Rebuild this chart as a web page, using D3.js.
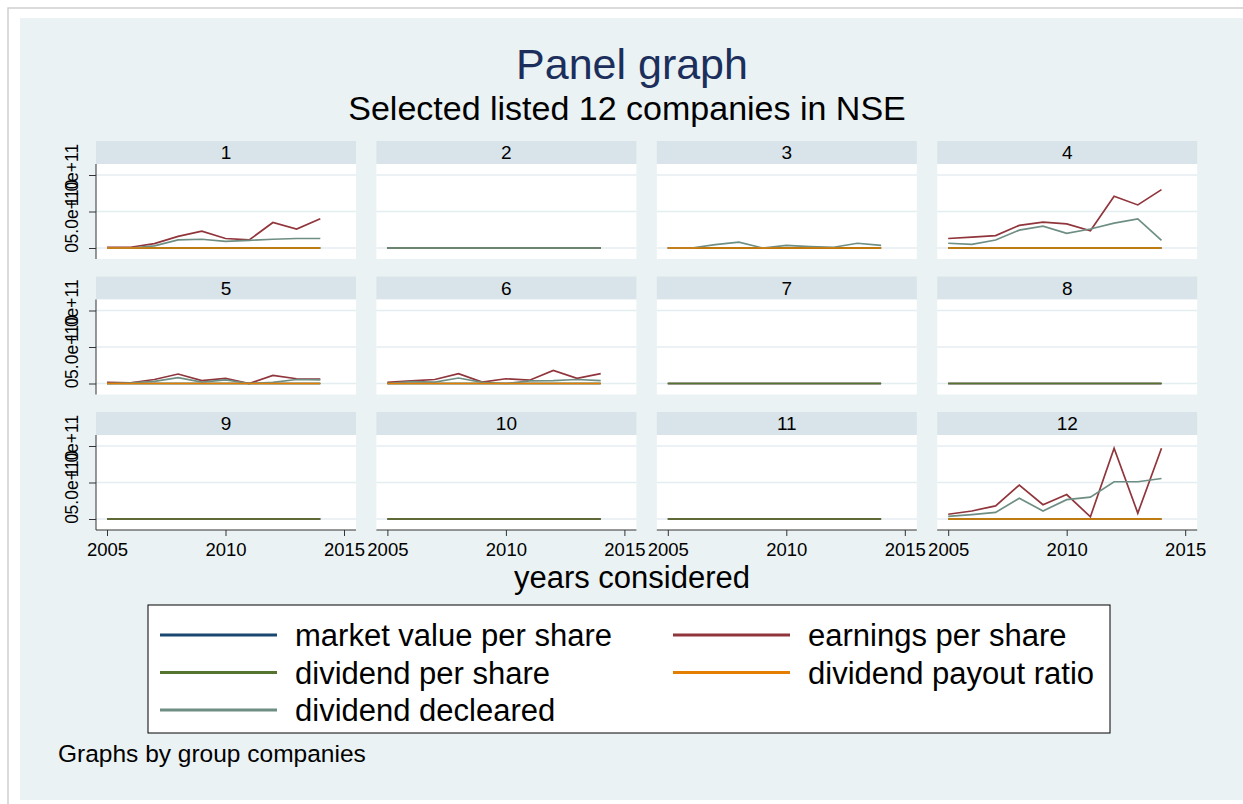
<!DOCTYPE html>
<html>
<head>
<meta charset="utf-8">
<script src="https://cdn.jsdelivr.net/npm/d3@7"></script>
<style>
  body { margin: 0; background: #fff; }
  svg { display: block; font-family: "Liberation Sans", Arial, sans-serif; }
</style>
</head>
<body>
<svg id="chart" width="1243" height="804"></svg>
<script>
// values in billions (1e9)
const years = [2005, 2006, 2007, 2008, 2009, 2010, 2011, 2012, 2013, 2014];
const companies = ["1", "2", "3", "4", "5", "6", "7", "8", "9", "10", "11", "12"];
const seriesNames = ["market value per share", "earnings per share", "dividend per share",
  "dividend payout ratio", "dividend decleared"];
const yTicks = [0, 50, 100];
const yTickLabels = ["0", "5.0e+10", "1.0e+11"];
const xTicks = [2005, 2010, 2015];

const marketValue = [
  [0, 0, 0, 0, 0, 0, 0, 0, 0, 0], [0, 0, 0, 0, 0, 0, 0, 0, 0, 0], [0, 0, 0, 0, 0, 0, 0, 0, 0, 0],
  [0, 0, 0, 0, 0, 0, 0, 0, 0, 0], [0, 0, 0, 0, 0, 0, 0, 0, 0, 0], [0, 0, 0, 0, 0, 0, 0, 0, 0, 0],
  [0, 0, 0, 0, 0, 0, 0, 0, 0, 0], [0, 0, 0, 0, 0, 0, 0, 0, 0, 0], [0, 0, 0, 0, 0, 0, 0, 0, 0, 0],
  [0, 0, 0, 0, 0, 0, 0, 0, 0, 0], [0, 0, 0, 0, 0, 0, 0, 0, 0, 0], [0, 0, 0, 0, 0, 0, 0, 0, 0, 0]
];
const earnings = [
  [1, 1, 6, 16, 23, 13, 11, 35, 26, 40],
  [0, 0, 0, 0, 0, 0, 0, 0, 0, 0],
  [0, 0, 0, 0, 0, 0, 0, 0, 0, 0],
  [13, 15, 17, 31, 35.5, 33, 23.5, 71, 59, 80],
  [1.5, 1, 5.5, 13, 4, 7, 0, 11, 6.5, 6],
  [1.5, 3.5, 5.5, 13.5, 2, 6.5, 4.5, 18, 7, 13.5],
  [0, 0, 0, 0, 0, 0, 0, 0, 0, 0], [0, 0, 0, 0, 0, 0, 0, 0, 0, 0], [0, 0, 0, 0, 0, 0, 0, 0, 0, 0],
  [0, 0, 0, 0, 0, 0, 0, 0, 0, 0], [0, 0, 0, 0, 0, 0, 0, 0, 0, 0],
  [6.5, 11, 18, 46.5, 19.5, 33.5, 3, 97, 8, 97]
];
const dividendPerShare = [
  [0, 0, 0, 0, 0, 0, 0, 0, 0, 0], [0, 0, 0, 0, 0, 0, 0, 0, 0, 0], [0, 0, 0, 0, 0, 0, 0, 0, 0, 0],
  [0, 0, 0, 0, 0, 0, 0, 0, 0, 0], [0, 0, 0, 0, 0, 0, 0, 0, 0, 0], [0, 0, 0, 0, 0, 0, 0, 0, 0, 0],
  [0, 0, 0, 0, 0, 0, 0, 0, 0, 0], [0, 0, 0, 0, 0, 0, 0, 0, 0, 0], [0, 0, 0, 0, 0, 0, 0, 0, 0, 0],
  [0, 0, 0, 0, 0, 0, 0, 0, 0, 0], [0, 0, 0, 0, 0, 0, 0, 0, 0, 0], [0, 0, 0, 0, 0, 0, 0, 0, 0, 0]
];
const payoutRatio = [
  [0, 0, 0, 0, 0, 0, 0, 0, 0, 0], null, [0, 0, 0, 0, 0, 0, 0, 0, 0, 0],
  [0, 0, 0, 0, 0, 0, 0, 0, 0, 0], [0, 0, 0, 0, 0, 0, 0, 0, 0, 0], [0, 0, 0, 0, 0, 0, 0, 0, 0, 0],
  null, null, null, null, null,
  [0, 0, 0, 0, 0, 0, 0, 0, 0, 0]
];
const dividendDecleared = [
  [0, 0, 3, 11, 12, 9, 10.5, 12, 13, 13],
  [0, 0, 0, 0, 0, 0, 0, 0, 0, 0],
  [0, 0, 4.5, 8, 0, 3.5, 2, 1, 6.5, 3.5],
  [6.5, 5, 11, 24.5, 30, 20, 26, 34, 40, 10.5],
  [0, 1, 3, 8, 2, 5, 0, 1.5, 5.5, 5],
  [0, 2.5, 2, 7.5, 1.5, 0, 3.5, 4, 5.5, 4],
  null, null, null, null, null,
  [3.5, 6, 9, 28.5, 11, 26.5, 30, 51, 51, 55.5]
];

const seriesData = [marketValue, earnings, dividendPerShare, payoutRatio, dividendDecleared];
const color = d3.scaleOrdinal(seriesNames, ["#1a476f", "#90353b", "#55752f", "#e37e00", "#6e8e84"]);
const drawOrder = [0, 1, 2, 4, 3];

const svg = d3.select("#chart");

// page frame and graph region
svg.append("rect").attr("x", 8).attr("y", 8).attr("width", 1240).attr("height", 800)
  .attr("fill", "#fff").attr("stroke", "#cfcfcf").attr("stroke-width", 1.5);
svg.append("rect").attr("x", 20).attr("y", 18).attr("width", 1223).attr("height", 782)
  .attr("fill", "#eaf2f3");

svg.append("text").attr("x", 632).attr("y", 79).attr("text-anchor", "middle")
  .attr("font-size", 43).attr("fill", "#1c2f5c").text("Panel graph");
svg.append("text").attr("x", 627).attr("y", 120).attr("text-anchor", "middle")
  .attr("font-size", 34).attr("fill", "#000").text("Selected listed 12 companies in NSE");

const colStep = 280.4, rowStep = 135.5;
const panelW = 260, headH = 23, plotH = 95;

companies.forEach((name, i) => {
  const col = i % 4, row = Math.floor(i / 4);
  const left = 96 + col * colStep;
  const top = 141 + row * rowStep;
  const pTop = top + headH, pBot = pTop + plotH;

  const x = d3.scaleLinear().domain([2005, 2015]).range([left + 11, left + 248]);
  const y = d3.scaleLinear().domain([0, 100]).range([pBot - 11, pTop + 11]);

  const g = svg.append("g");
  g.append("rect").attr("x", left).attr("y", top).attr("width", panelW).attr("height", headH)
    .attr("fill", "#d9e4ea");
  g.append("text").attr("x", left + panelW / 2).attr("y", top + 18).attr("text-anchor", "middle")
    .attr("font-size", 19).text(name);
  g.append("rect").attr("x", left).attr("y", pTop).attr("width", panelW).attr("height", plotH)
    .attr("fill", "#fff");

  g.selectAll(".grid").data(yTicks).join("line")
    .attr("x1", left).attr("x2", left + panelW)
    .attr("y1", d => y(d)).attr("y2", d => y(d))
    .attr("stroke", "#e4edf0").attr("stroke-width", 1.3);

  const line = d3.line().x((d, j) => x(years[j])).y(d => y(d));
  drawOrder.forEach(s => {
    const vals = seriesData[s][i];
    if (!vals) return;
    g.append("path").attr("d", line(vals)).attr("fill", "none")
      .attr("stroke", color(seriesNames[s])).attr("stroke-width", 1.7);
  });

  if (col === 0) {
    const ya = g.append("g").attr("transform", `translate(${left},0)`)
      .call(d3.axisLeft(y).tickValues(yTicks).tickSize(7).tickFormat(""));
    ya.select(".domain").attr("d", `M0,${pTop}V${pBot}`).attr("stroke", "#333");
    ya.selectAll(".tick line").attr("stroke", "#333");
    g.selectAll(".ylab").data(yTicks).join("text")
      .attr("transform", (d) => `translate(${left - 18},${y(d)}) rotate(-90)`)
      .attr("text-anchor", "middle").attr("font-size", 17.5)
      .text((d, k) => yTickLabels[k]);
  }
  if (row === 2) {
    const xa = g.append("g").attr("transform", `translate(0,${pBot})`)
      .call(d3.axisBottom(x).tickValues(xTicks).tickSize(6).tickFormat(d3.format("d")));
    xa.select(".domain").attr("d", `M${left},0H${left + panelW}`).attr("stroke", "#333");
    xa.selectAll(".tick line").attr("stroke", "#333");
    xa.selectAll(".tick text").attr("font-size", 18.5).attr("fill", "#000")
      .attr("font-family", "Liberation Sans, Arial, sans-serif").attr("dy", "0.9em");
  }
});

svg.append("text").attr("x", 632).attr("y", 588).attr("text-anchor", "middle")
  .attr("font-size", 31).text("years considered");

// legend
svg.append("rect").attr("x", 148).attr("y", 605).attr("width", 962).attr("height", 128)
  .attr("fill", "#fff").attr("stroke", "#000").attr("stroke-width", 1);
const lg = svg.selectAll(".leg").data(seriesNames).join("g")
  .attr("transform", (d, k) => `translate(${k % 2 ? 673 : 160},${635 + Math.floor(k / 2) * 37.5})`);
lg.append("line").attr("x1", 0).attr("x2", 117).attr("stroke", d => color(d)).attr("stroke-width", 3);
lg.append("text").attr("x", 135).attr("y", 11).attr("font-size", 31).text(d => d);

svg.append("text").attr("x", 58).attr("y", 762).attr("font-size", 24.5).text("Graphs by group companies");
</script>
</body>
</html>
